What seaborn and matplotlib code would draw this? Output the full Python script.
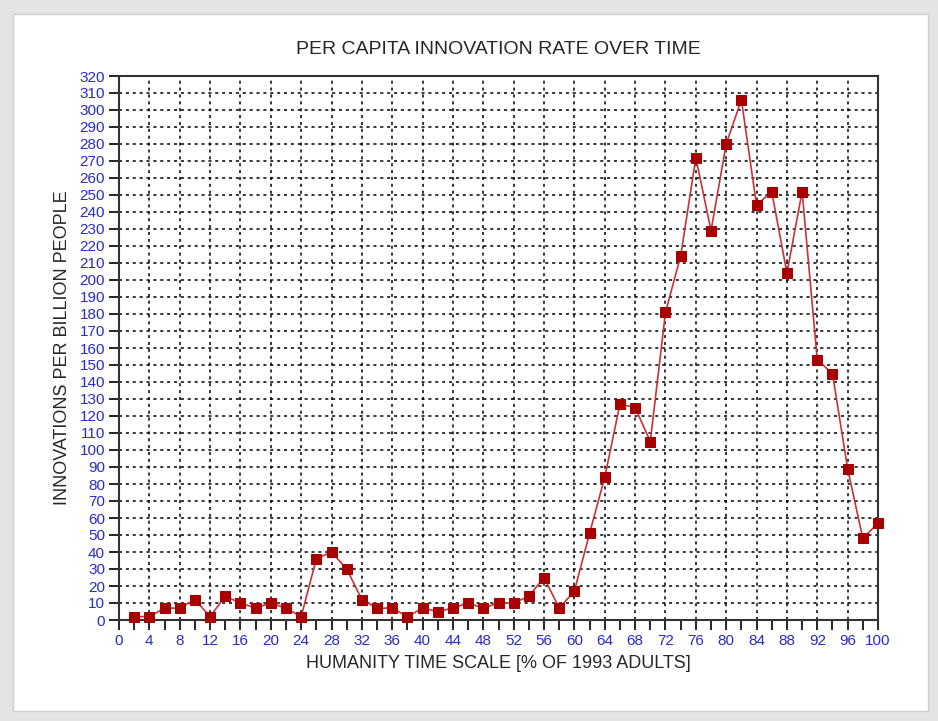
import numpy as np
import pandas as pd
import matplotlib
matplotlib.use('Agg')
import matplotlib.pyplot as plt
import seaborn as sns
from matplotlib.patches import Rectangle
from matplotlib.ticker import MultipleLocator

# data
time_pct = [2, 4, 6, 8, 10, 12, 14, 16, 18, 20, 22, 24, 26, 28, 30, 32, 34, 36, 38, 40,
            42, 44, 46, 48, 50, 52, 54, 56, 58, 60, 62, 64, 66, 68, 70, 72, 74, 76, 78, 80,
            82, 84, 86, 88, 90, 92, 94, 96, 98, 100]
innovations = [2, 2, 7, 7, 12, 2, 14, 10, 7, 10, 7, 2, 36, 40, 30, 12, 7, 7, 2, 7,
               5, 7, 10, 7, 10, 10, 14, 25, 7, 17, 51, 84, 127, 125, 105, 181, 214, 272, 229, 280,
               306, 244, 252, 204, 252, 153, 145, 89, 48, 57]

df = pd.DataFrame({'time': time_pct, 'rate': innovations})

sns.set_style('white')
plt.rcParams['font.family'] = ['Liberation Sans', 'DejaVu Sans']

fig = plt.figure(figsize=(9.38, 7.21), dpi=100)
# grey frame around the page
fig.patches.append(Rectangle((0, 0), 1, 1, transform=fig.transFigure,
                             facecolor='#e4e4e4', edgecolor='none', zorder=-2))
fig.patches.append(Rectangle((13 / 938, 10 / 721), 915 / 938, 697 / 721, transform=fig.transFigure,
                             facecolor='white', edgecolor='#cfcfcf', lw=1, zorder=-1))

ax = fig.add_axes([119 / 938, 1 - 620 / 721, 759 / 938, 544 / 721])
ax.set_facecolor('none')

sns.lineplot(data=df, x='time', y='rate', ax=ax, color='#c8323a', lw=1.2,
             marker='s', markersize=7, markerfacecolor='#a80000',
             markeredgecolor='#a80000', zorder=3)
for ln in ax.lines:
    ln.set_clip_on(False)

ax.set_xlim(0, 100)
ax.set_ylim(0, 320)
ax.xaxis.set_major_locator(MultipleLocator(4))
ax.xaxis.set_minor_locator(MultipleLocator(2))
ax.yaxis.set_major_locator(MultipleLocator(10))

ax.grid(True, which='major', color='black', linestyle=(0, (2, 2.5)), lw=1.1)
ax.tick_params(axis='both', which='both', direction='out', colors='black',
               labelcolor='#2a2ac8', labelsize=11)
ax.tick_params(axis='both', which='major', length=7, width=1.2, pad=3)
ax.tick_params(axis='x', which='minor', length=7, width=1.2)
ax.tick_params(left=True, bottom=True, which='both')
for s in ax.spines.values():
    s.set_color('#333333')
    s.set_linewidth(1.5)

ax.set_xlabel('HUMANITY TIME SCALE [% OF 1993 ADULTS]', fontsize=13, labelpad=5)
ax.set_ylabel('INNOVATIONS PER BILLION PEOPLE', fontsize=13, labelpad=6)
ax.set_title('PER CAPITA INNOVATION RATE OVER TIME', fontsize=14, pad=16)

fig.savefig('out.png', dpi=100)
